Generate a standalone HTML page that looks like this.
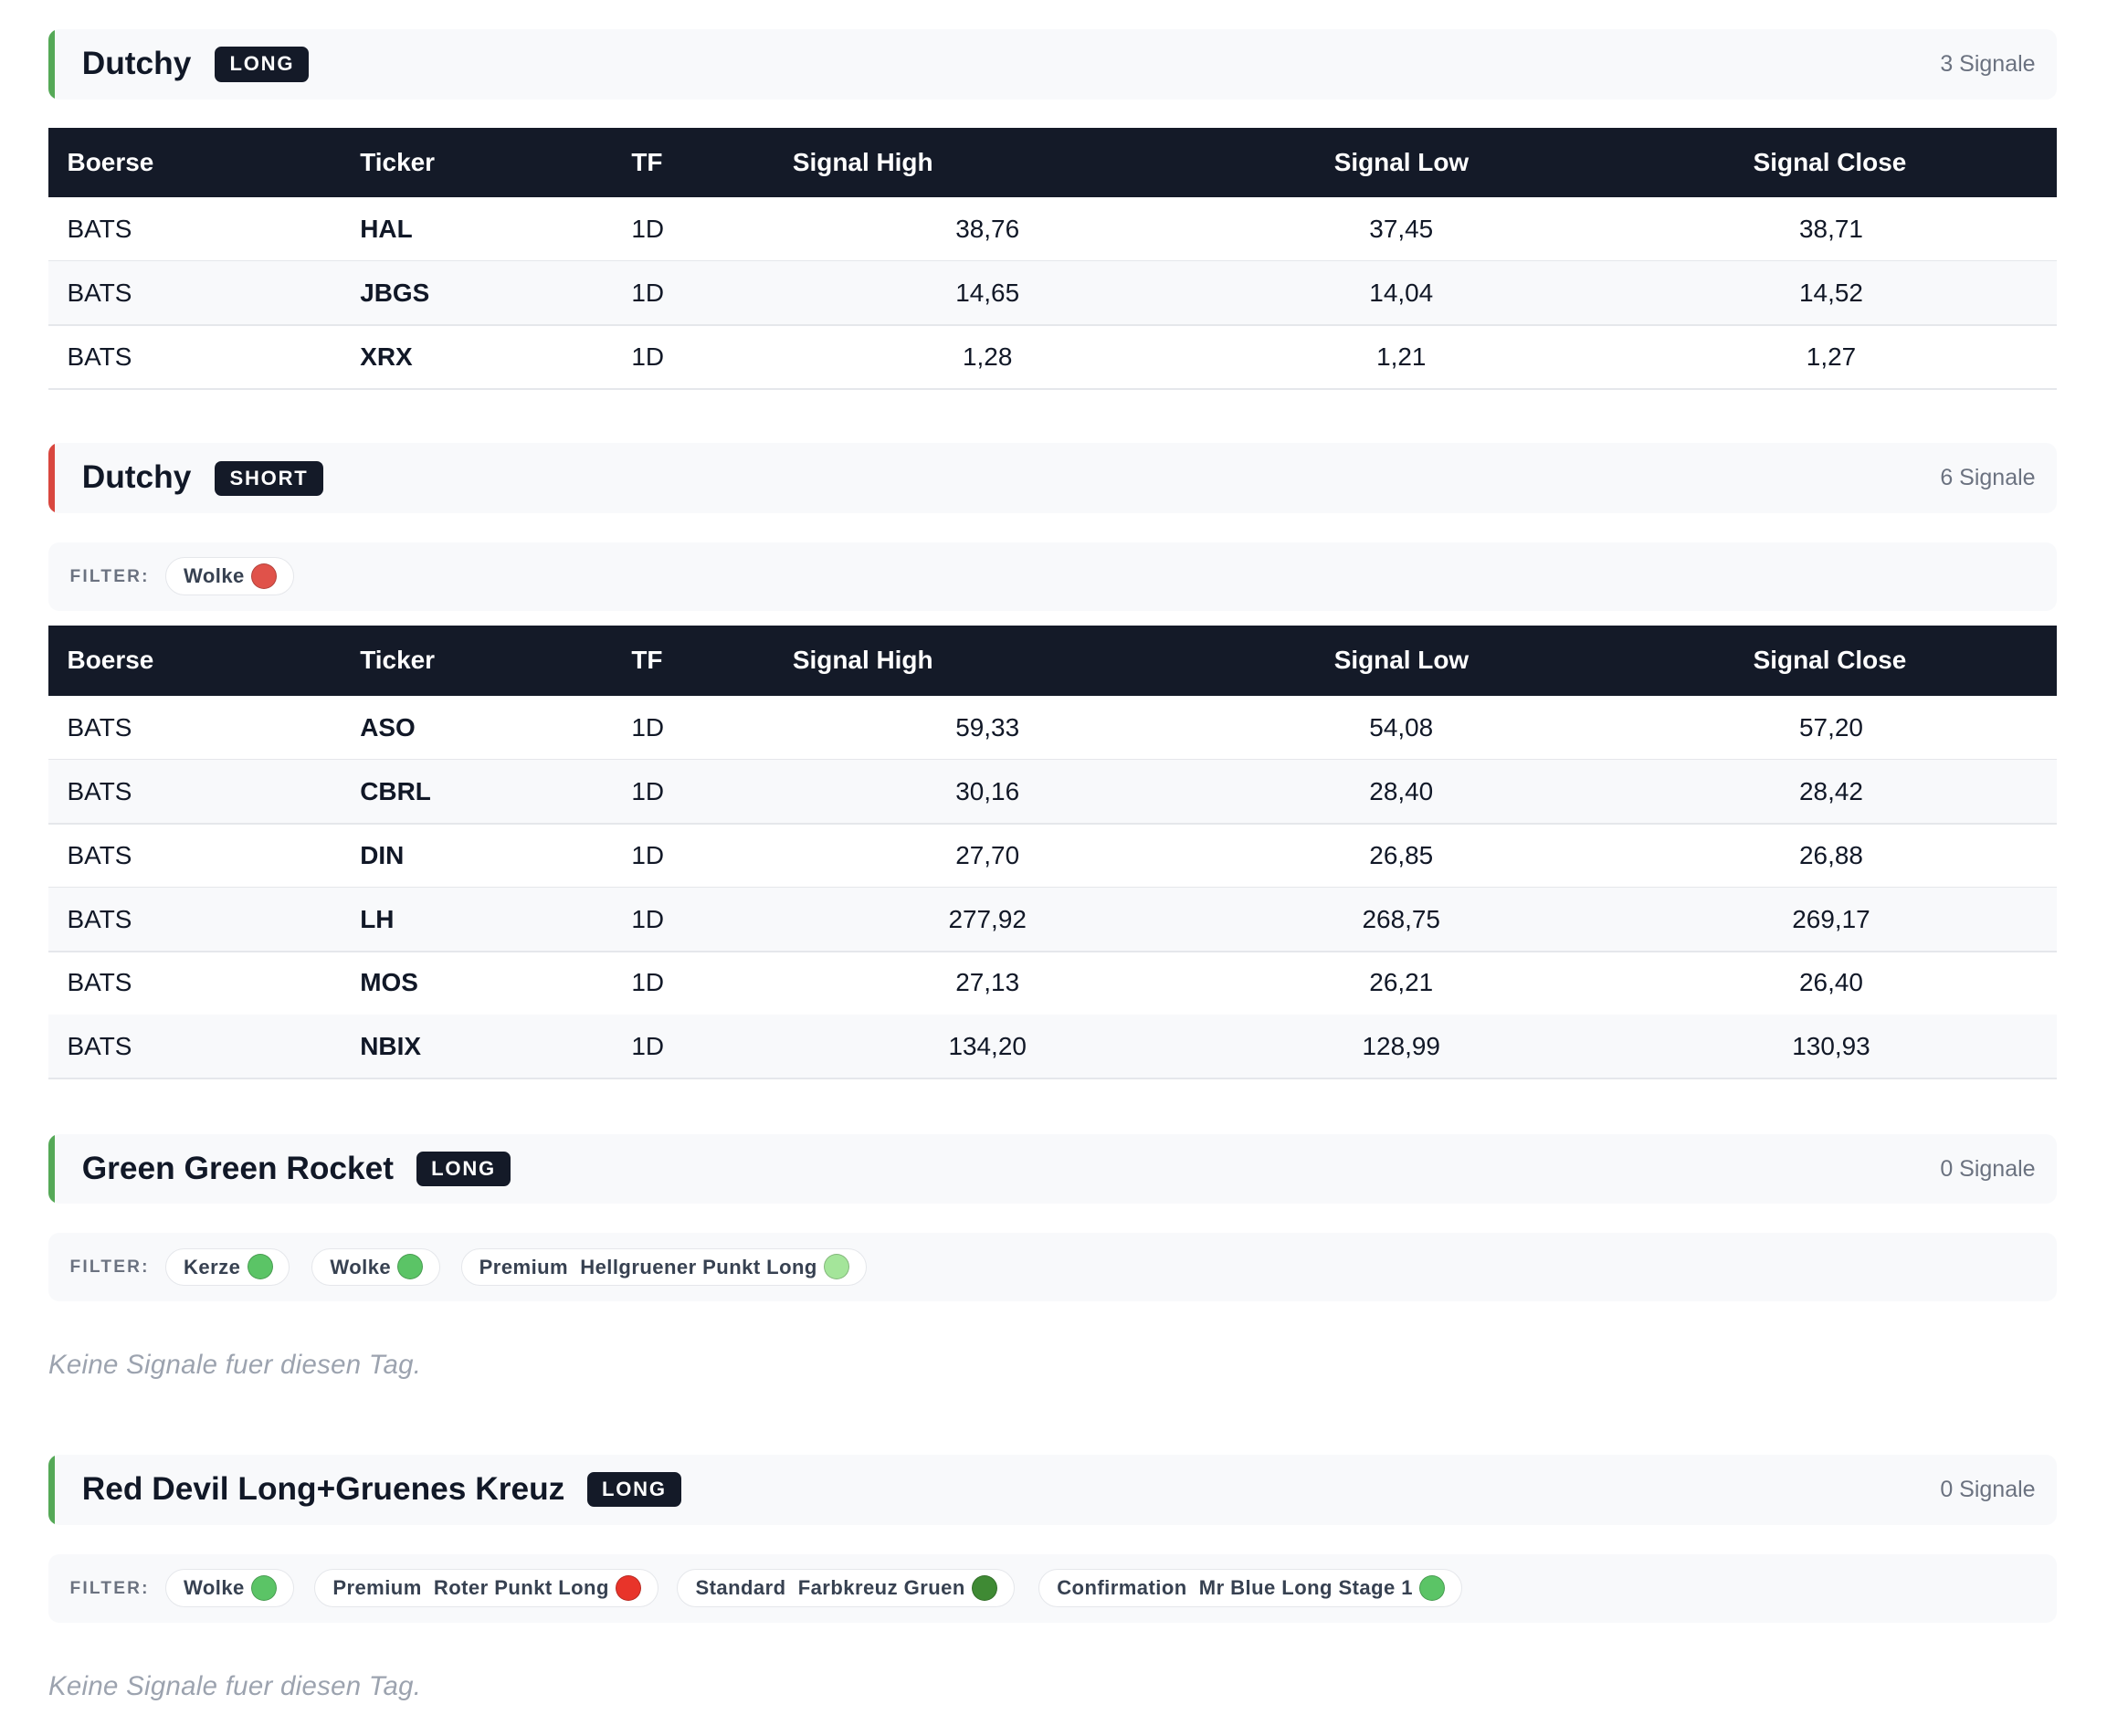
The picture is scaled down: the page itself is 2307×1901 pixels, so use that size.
<!DOCTYPE html>
<html><head><meta charset="utf-8">
<style>
html,body{margin:0;padding:0;background:#fff;width:2307px;height:1900px;overflow:hidden}
#wrap{position:absolute;left:0;top:0;width:1568px;height:1292px;zoom:1.471;font-family:"Liberation Sans",sans-serif;color:#111827}
.shead{position:absolute;left:36px;width:1495px;height:52px;background:#f8f9fb;border-radius:8px;overflow:hidden}
.shead .bar{position:absolute;left:0;top:0;width:5px;height:100%;border-radius:8px 0 0 8px}
.shead .title{position:absolute;left:25px;top:0;line-height:52px;font-size:24px;font-weight:bold;color:#111827}
.badge{position:absolute;top:13px;height:26px;line-height:26px;background:#141a28;color:#fff;font-size:15px;font-weight:bold;letter-spacing:1.2px;padding:0 11px;border-radius:5px}
.shead .count{position:absolute;right:16px;top:0;line-height:52px;font-size:17px;color:#6b7280}
.thead{position:absolute;left:36px;width:1495px;height:52px;background:#141a28;color:#fff;font-size:19px;font-weight:bold}
.thead span{position:absolute;top:0;line-height:52px}
.row{position:absolute;left:36px;width:1495px;height:47px;border-bottom:1.5px solid #e5e7eb;font-size:19px;color:#111827}
.row span{position:absolute;top:0;line-height:47px}
.row.alt{background:#f8f9fb}
.c{transform:translateX(-50%)}
.filter{position:absolute;left:36px;width:1495px;height:51px;background:#f8f9fb;border-radius:8px}
.flabel{position:absolute;left:16px;top:0;line-height:51px;font-size:13px;font-weight:bold;color:#6b7280;letter-spacing:1.5px}
.chip{position:absolute;top:11px;height:27px;line-height:27px;background:#fff;border:1px solid #e5e7eb;border-radius:15px;font-size:15px;font-weight:bold;color:#374151;padding:0 36px 0 13px;white-space:nowrap;letter-spacing:0.3px}
.chip i{position:absolute;right:12px;top:4px;width:19px;height:19px;border-radius:50%;box-sizing:border-box;border:1px solid rgba(0,0,0,.2)}
.empty{position:absolute;left:36px;font-size:20px;font-style:italic;color:#9ca3af;letter-spacing:0.2px}
</style></head><body>
<div id="wrap"></div>
<script>
const colX=[50,268,470];
const numCenters=[735,1043,1363];
const headers=["Boerse","Ticker","TF","Signal High","Signal Low","Signal Close"];
const headerX=[50,268,470,590,993,1305];
const t1Tickers=["HAL","JBGS","XRX"];
const t1High=["38,76","14,65","1,28"];
const t1Low=["37,45","14,04","1,21"];
const t1Close=["38,71","14,52","1,27"];
const t2Tickers=["ASO","CBRL","DIN","LH","MOS","NBIX"];
const t2High=["59,33","30,16","27,70","277,92","27,13","134,20"];
const t2Low=["54,08","28,40","26,85","268,75","26,21","128,99"];
const t2Close=["57,20","28,42","26,88","269,17","26,40","130,93"];
const W=document.getElementById('wrap');

function mk(cls,parent){const d=document.createElement('div');d.className=cls;(parent||W).appendChild(d);return d;}

function section(y,title,badgeText,badgeX,count,color,name){
  const h=mk('shead');h.style.top=y+'px';
  
  
  const b=mk('bar',h);b.style.background=color;
  
  
  const t=mk('title',h);t.textContent=title;
  
  
  const bd=mk('badge',h);bd.textContent=badgeText;bd.style.left=(badgeX-36)+'px';
  
  
  const c=mk('count',h);c.textContent=count;
  
  
}
function table(y,tickers,hi,lo,cl,name){
  const th=mk('thead');th.style.top=y+'px';
  
  
  headers.forEach((t,i)=>{const s=document.createElement('span');s.textContent=t;s.style.left=(headerX[i]-36)+'px';
    
    
    th.appendChild(s);});
  tickers.forEach((tk,r)=>{
    const row=mk('row'+(r%2?' alt':''));row.style.top=(y+52+r*47.5)+'px';
    
    
    const vals=["BATS",tk,"1D",hi[r],lo[r],cl[r]];
    vals.forEach((v,i)=>{const s=document.createElement('span');s.textContent=v;
      if(i<3){s.style.left=(colX[i]-36)+'px';}else{s.style.left=(numCenters[i-3]-36)+'px';s.className='c';}
      if(i==1)s.style.fontWeight='bold';
      
      
      row.appendChild(s);});
  });
}
function filter(y,chips,name){
  const f=mk('filter');f.style.top=y+'px';
  
  
  const l=mk('flabel',f);l.textContent='FILTER:';
  
  
  chips.forEach(c=>{const ch=mk('chip',f);ch.style.left=(c[1]-36)+'px';ch.textContent=c[0];
    
    
    const i=document.createElement('i');i.style.background=c[2];
    
    
    ch.appendChild(i);});
}
function empty(y){const e=mk('empty');e.style.top=y+'px';e.textContent='Keine Signale fuer diesen Tag.';
  
  }

section(22,'Dutchy','LONG',160,'3 Signale','#55a957','dutchy-long');
table(95,t1Tickers,t1High,t1Low,t1Close,'dutchy-long-table');
section(330,'Dutchy','SHORT',160,'6 Signale','#d9473f','dutchy-short');
filter(404,[['Wolke',123,'#e0524a']],'dutchy-short');
table(466,t2Tickers,t2High,t2Low,t2Close,'dutchy-short-table');
section(844,'Green Green Rocket','LONG',310,'0 Signale','#55a957','green-rocket');
filter(918,[['Kerze',123,'#5bc466'],['Wolke',232,'#5bc466'],['Premium\u00a0 Hellgruener Punkt Long',343,'#a4e59a']],'green-rocket');
empty(1005);
section(1083,'Red Devil Long+Gruenes Kreuz','LONG',437,'0 Signale','#55a957','red-devil');
filter(1157,[['Wolke',123,'#5bc466'],['Premium\u00a0 Roter Punkt Long',234,'#e8342a'],['Standard\u00a0 Farbkreuz Gruen',504,'#3f8a34'],['Confirmation\u00a0 Mr Blue Long Stage 1',773,'#5bc466']],'red-devil');
empty(1244);
</script>
</body></html>
